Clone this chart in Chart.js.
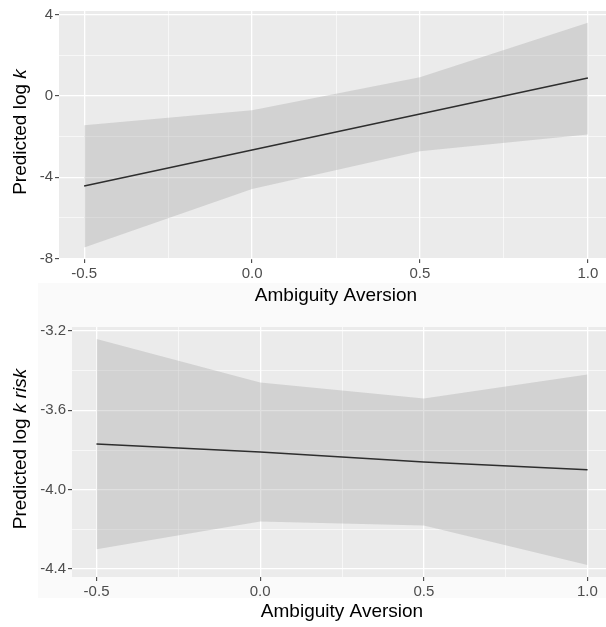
<!DOCTYPE html>
<html>
<head>
<meta charset="utf-8">
<script src="https://cdn.jsdelivr.net/npm/chart.js@4"></script>
<style>
  html, body { margin: 0; padding: 0; background: #fff; }
  body { width: 606px; height: 627px; overflow: hidden; position: relative; }
  canvas { position: absolute; left: 0; }
  #backdrop { position: absolute; left: 38px; top: 283px; width: 568px; height: 315px; background: #fafafa; }
</style>
</head>
<body>
<div id="backdrop"></div>
<canvas id="kChart" width="620" height="310" style="top:0"></canvas>
<canvas id="riskChart" width="620" height="327" style="top:300px"></canvas>
<script>
// ambiguity aversion values the model was evaluated at
const aversion = [-0.5, 0.0, 0.5, 1.0];

// predicted log k with its confidence band
const kFit = [-4.43, -2.66, -0.89, 0.88];
const kUpper = [-1.44, -0.70, 0.92, 3.60];
const kLower = [-7.45, -4.58, -2.72, -1.90];

// predicted log k risk with its confidence band
const riskFit = [-3.77, -3.81, -3.86, -3.90];
const riskUpper = [-3.24, -3.46, -3.54, -3.42];
const riskLower = [-4.30, -4.16, -4.18, -4.38];

// axis breaks (major get labels, minor only a grid line)
const xMajor = [-0.5, 0.0, 0.5, 1.0];
const xMinor = [-0.25, 0.25, 0.75];
const xLabels = ['-0.5', '0.0', '0.5', '1.0'];

const kMajor = [-8, -4, 0, 4];
const kMinor = [-6, -2, 2];
const kLabels = ['-8', '-4', '0', '4'];

const riskMajor = [-4.4, -4.0, -3.6, -3.2];
const riskMinor = [-4.2, -3.8, -3.4];
const riskLabels = ['-4.4', '-4.0', '-3.6', '-3.2'];

const FONT = '"Liberation Sans", Arial, Helvetica, sans-serif';

function toPoints(ys) {
    return aversion.map((x, i) => ({ x: x, y: ys[i] }));
}

// ggplot-like grey panel plus hand drawn axis titles
const panelPlugin = {
    id: 'panel',
    beforeDraw(chart, args, opts) {
        const { ctx, chartArea: a } = chart;
        ctx.save();
        ctx.fillStyle = '#ebebeb';
        ctx.fillRect(a.left, a.top, a.right - a.left, a.bottom - a.top);
        ctx.restore();
    },
    afterDraw(chart, args, opts) {
        const { ctx, chartArea: a } = chart;
        ctx.save();
        ctx.fillStyle = '#000';
        ctx.textBaseline = 'middle';
        ctx.textAlign = 'center';
        ctx.font = '19px ' + FONT;
        ctx.fillText(opts.xTitle, (a.left + a.right) / 2, a.bottom + opts.xTitleGap);

        // y title: mixed upright and italic pieces, rotated
        const parts = opts.yTitle;
        let total = 0;
        parts.forEach(p => {
            ctx.font = (p.italic ? 'italic ' : '') + '19px ' + FONT;
            p.w = ctx.measureText(p.text).width;
            total += p.w;
        });
        ctx.translate(21, (a.top + a.bottom) / 2 - 3);
        ctx.rotate(-Math.PI / 2);
        ctx.textAlign = 'left';
        let cx = -total / 2;
        parts.forEach(p => {
            ctx.font = (p.italic ? 'italic ' : '') + '19px ' + FONT;
            ctx.fillText(p.text, cx, 0);
            cx += p.w;
        });
        ctx.restore();
    }
};

function makeChart(id, cfg) {
    const ctx = document.getElementById(id).getContext('2d');
    const isMajor = (list, v) => list.some(m => Math.abs(m - v) < 1e-9);
    const labelFor = (list, labels, v) => {
        const i = list.findIndex(m => Math.abs(m - v) < 1e-9);
        return i >= 0 ? labels[i] : '';
    };
    return new Chart(ctx, {
        type: 'line',
        data: {
            datasets: [{
                data: toPoints(cfg.upper),
                borderWidth: 0,
                pointRadius: 0,
                backgroundColor: 'rgba(153,153,153,0.3)',
                fill: '+1'
            }, {
                data: toPoints(cfg.lower),
                borderWidth: 0,
                pointRadius: 0,
                fill: false
            }, {
                data: toPoints(cfg.fit),
                borderColor: '#000',
                borderWidth: 1.5,
                pointRadius: 0,
                fill: false
            }]
        },
        plugins: [panelPlugin],
        options: {
            responsive: false,
            animation: false,
            devicePixelRatio: 1,
            layout: { padding: cfg.padding },
            plugins: {
                legend: { display: false },
                tooltip: { enabled: false },
                panel: { xTitle: 'Ambiguity Aversion', xTitleGap: cfg.xTitleGap, yTitle: cfg.yTitle }
            },
            scales: {
                x: {
                    type: 'linear',
                    min: -0.575,
                    max: 1.075,
                    afterBuildTicks: s => { s.ticks = xMajor.concat(xMinor).sort((a, b) => a - b).map(v => ({ value: v })); },
                    afterFit: s => { s.height = cfg.xHeight; },
                    border: { display: false },
                    grid: {
                        color: '#fff',
                        lineWidth: c => isMajor(xMajor, c.tick.value) ? 1.3 : 0.6,
                        tickColor: c => isMajor(xMajor, c.tick.value) ? '#333' : 'rgba(0,0,0,0)',
                        tickLength: 4,
                        tickWidth: 1
                    },
                    ticks: {
                        autoSkip: false,
                        maxRotation: 0,
                        padding: 2,
                        color: '#4d4d4d',
                        font: { family: FONT, size: 15 },
                        callback: v => labelFor(xMajor, xLabels, v)
                    }
                },
                y: {
                    type: 'linear',
                    min: cfg.yMin,
                    max: cfg.yMax,
                    afterBuildTicks: s => { s.ticks = cfg.yMajor.concat(cfg.yMinor).sort((a, b) => a - b).map(v => ({ value: v })); },
                    afterFit: s => { s.width = cfg.yWidth; },
                    border: { display: false },
                    grid: {
                        color: '#fff',
                        lineWidth: c => isMajor(cfg.yMajor, c.tick.value) ? 1.3 : 0.6,
                        tickColor: c => isMajor(cfg.yMajor, c.tick.value) ? '#333' : 'rgba(0,0,0,0)',
                        tickLength: 4,
                        tickWidth: 1
                    },
                    ticks: {
                        autoSkip: false,
                        padding: 2,
                        color: '#4d4d4d',
                        font: { family: FONT, size: 15 },
                        callback: v => labelFor(cfg.yMajor, cfg.yLabels, v)
                    }
                }
            }
        }
    });
}

makeChart('kChart', {
    fit: kFit, upper: kUpper, lower: kLower,
    yMin: -8.02, yMax: 4.18,
    yMajor: kMajor, yMinor: kMinor, yLabels: kLabels,
    yWidth: 59, xHeight: 51, xTitleGap: 37,
    padding: { top: 10, right: 7, bottom: 0, left: 0 },
    yTitle: [{ text: 'Predicted log ' }, { text: 'k', italic: true }]
});

makeChart('riskChart', {
    fit: riskFit, upper: riskUpper, lower: riskLower,
    yMin: -4.44, yMax: -3.18,
    yMajor: riskMajor, yMinor: riskMinor, yLabels: riskLabels,
    yWidth: 72, xHeight: 50, xTitleGap: 35,
    padding: { top: 27, right: 8, bottom: 0, left: 0 },
    yTitle: [{ text: 'Predicted log ' }, { text: 'k risk', italic: true }]
});
</script>
</body>
</html>
